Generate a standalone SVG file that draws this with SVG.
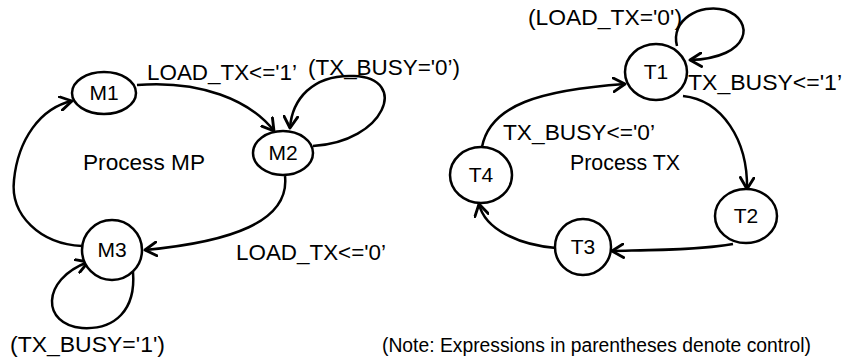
<svg xmlns="http://www.w3.org/2000/svg" width="852" height="362" viewBox="0 0 852 362">
<style>
text{font-family:"Liberation Sans",Arial,sans-serif;font-size:22px;fill:#000}
.n{text-anchor:middle;font-size:21px}
.st{fill:#fff;stroke:#000;stroke-width:2.5}
.e{fill:none;stroke:#000;stroke-width:2.5;marker-end:url(#a)}
</style>
<defs>
<marker id="a" markerUnits="userSpaceOnUse" markerWidth="16" markerHeight="16" refX="11" refY="7" orient="auto" viewBox="0 0 14 14">
<path d="M1,1 L11,7 L1,13" fill="none" stroke="#000" stroke-width="2.5" stroke-linecap="round" stroke-linejoin="round"/>
</marker>
</defs>
<g id="connectors">
<path class="e" d="M137 85 C200 80 250 100 274 131"/>
<path class="e" d="M313 146 C385 142 410 78 354 76 C312 74 292 100 290 128"/>
<path class="e" d="M285 176 C290 222 230 242 145 250"/>
<path class="e" d="M82 246 C40 244 10 215 14 180 C18 140 40 108 72 101"/>
<path class="e" d="M133 272 C136 310 115 330 82 328 C42 325 40 280 88 262"/>
<path class="e" d="M677 46 C670 20 700 3 725 10 C755 20 752 58 690 60"/>
<path class="e" d="M683 96 C722 100 748 140 747 189"/>
<path class="e" d="M733 244 C700 250 650 250 612 251"/>
<path class="e" d="M556 248 C520 245 485 230 479 204"/>
<path class="e" d="M482 147 C490 105 540 90 625 84"/>
</g>
<g id="M1"><ellipse class="st" cx="104" cy="93" rx="32" ry="21"/><text class="n" x="104" y="100">M1</text></g>
<g id="M2"><ellipse class="st" cx="283" cy="153" rx="30" ry="22"/><text class="n" x="283" y="160">M2</text></g>
<g id="M3"><ellipse class="st" cx="112" cy="250" rx="30" ry="30"/><text class="n" x="112" y="257">M3</text></g>
<g id="T1"><ellipse class="st" cx="656" cy="72" rx="31" ry="28"/><text class="n" x="656" y="79">T1</text></g>
<g id="T2"><ellipse class="st" cx="746" cy="216" rx="31" ry="27"/><text class="n" x="746" y="223">T2</text></g>
<g id="T3"><ellipse class="st" cx="583" cy="247" rx="28" ry="28"/><text class="n" x="583" y="254">T3</text></g>
<g id="T4"><ellipse class="st" cx="481" cy="175" rx="31" ry="28"/><text class="n" x="481" y="182">T4</text></g>
<g id="labels">
<text x="147" y="80" textLength="150" lengthAdjust="spacingAndGlyphs">LOAD_TX&lt;='1’</text>
<text x="308" y="75" textLength="152" lengthAdjust="spacingAndGlyphs">(TX_BUSY='0’)</text>
<text x="83" y="170" textLength="122" lengthAdjust="spacingAndGlyphs">Process MP</text>
<text x="236" y="260" textLength="150" lengthAdjust="spacingAndGlyphs">LOAD_TX&lt;='0’</text>
<text x="10" y="352" textLength="155" lengthAdjust="spacingAndGlyphs">(TX_BUSY='1')</text>
<text x="528" y="25" textLength="154" lengthAdjust="spacingAndGlyphs">(LOAD_TX='0')</text>
<text x="688" y="90" textLength="154" lengthAdjust="spacingAndGlyphs">TX_BUSY&lt;='1’</text>
<text x="503" y="140" textLength="152" lengthAdjust="spacingAndGlyphs">TX_BUSY&lt;='0’</text>
<text x="570" y="170" textLength="110" lengthAdjust="spacingAndGlyphs">Process TX</text>
<text x="382" y="352" textLength="429" lengthAdjust="spacingAndGlyphs" style="font-size:20px">(Note: Expressions in parentheses denote control)</text>
</g>
</svg>
